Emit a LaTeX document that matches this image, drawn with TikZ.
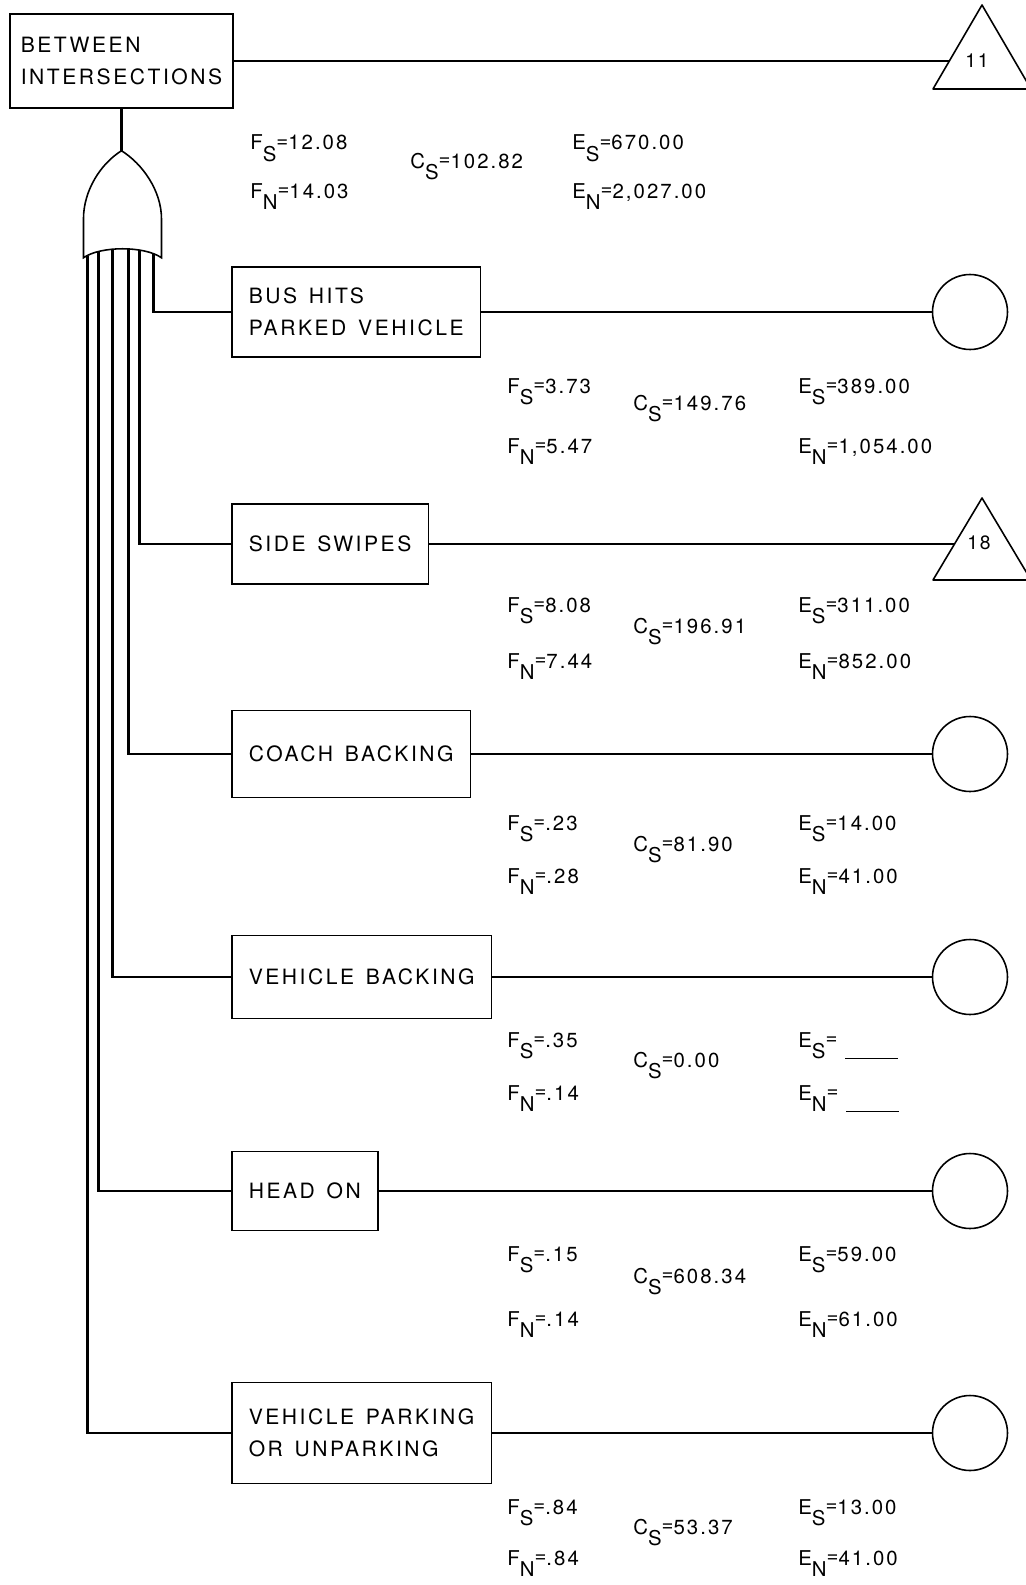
\documentclass[tikz,border=0pt]{standalone}
\usepackage{fontspec}
\setmainfont{TeX Gyre Heros}
\newfontfamily\boxfont[LetterSpace=12,WordSpace=1.4]{TeX Gyre Heros}
\newfontfamily\numfont[LetterSpace=10]{TeX Gyre Heros}
\newcommand{\lo}[1]{\raisebox{-0.58em}{#1}}
\newcommand{\eq}{\raisebox{0.12em}{=}}
\newcommand{\blank}{\ \rule[-0.24cm]{1.06cm}{0.6pt}}
\tikzset{
    evbox/.style={
        draw,
        line width=0.9pt,
        anchor=west,
        align=left,
        inner xsep=0.34cm,
        inner ysep=0pt,
        font=\fontsize{12}{18.5}\boxfont
    },
    evcirc/.style={
        circle,
        draw,
        line width=0.9pt,
        minimum size=1.5cm,
        inner sep=0pt
    },
    transfer/.style={
        draw,
        line width=0.9pt,
        line join=round
    },
    conn/.style={
        line width=1.3pt
    },
    val/.style={
        anchor=base west,
        inner sep=0pt,
        font=\fontsize{11.6}{12}\numfont
    },
    tnum/.style={
        inner sep=0pt,
        font=\fontsize{11}{12}\numfont
    }
}
\begin{document}
\begin{tikzpicture}[x=0.02cm,y=-0.02cm]
\useasboundingbox (0,0) rectangle (1026,1585);
\node[evbox,inner xsep=0.22cm,minimum height=1.88cm] (top) at (9,61) {BETWEEN\\INTERSECTIONS};
\coordinate (gtop) at ([yshift=-0.84cm]top.south);
\begin{scope}[shift={(gtop)}]
\draw[line width=0.9pt] (0,0) .. controls (-21,13) and (-38,40) .. (-38,68) -- (-38,107)
  .. controls (-21,95) and (23,95) .. (40,107) -- (40,68)
  .. controls (40,40) and (21,13) .. (0,0);
\coordinate (g1) at (32,103.5);
\coordinate (g2) at (18,99.6);
\coordinate (g3) at (7,98.2);
\coordinate (g4) at (-9,98.6);
\coordinate (g5) at (-23,101.5);
\coordinate (g6) at (-34,105.3);
\end{scope}
\draw[conn] (top.south) -- (gtop);

\node[evbox,minimum height=1.8cm] (bus) at (231,312) {BUS HITS\\PARKED VEHICLE};
\node[evbox,minimum height=1.6cm] (side) at (231,544) {SIDE SWIPES};
\node[evbox,minimum height=1.74cm] (coach) at (231,754) {COACH BACKING};
\node[evbox,minimum height=1.66cm] (vback) at (231,977) {VEHICLE BACKING};
\node[evbox,minimum height=1.58cm] (head) at (231,1191) {HEAD ON};
\node[evbox,minimum height=2.02cm] (park) at (231,1433) {VEHICLE PARKING\\OR UNPARKING};

\node[evcirc] (c1) at (970,312) {};
\node[evcirc] (c2) at (970,754) {};
\node[evcirc] (c3) at (970,977) {};
\node[evcirc] (c4) at (970,1191) {};
\node[evcirc] (c5) at (970,1433) {};

\draw[transfer] (982,5) -- (933,89) -- (1031,89) -- cycle;
\node[tnum] (t11) at (977,61) {11};
\coordinate (j11) at (949,61);
\draw[transfer] (982,498) -- (933,580) -- (1031,580) -- cycle;
\node[tnum] (t18) at (979,543) {18};
\coordinate (j18) at (955,544);

\path[conn]
  (top) edge (j11)
  (g1) edge[to path={|- (\tikztotarget)}] (bus)
  (g2) edge[to path={|- (\tikztotarget)}] (side)
  (g3) edge[to path={|- (\tikztotarget)}] (coach)
  (g4) edge[to path={|- (\tikztotarget)}] (vback)
  (g5) edge[to path={|- (\tikztotarget)}] (head)
  (g6) edge[to path={|- (\tikztotarget)}] (park)
  (bus) edge (c1)
  (side) edge (j18)
  (coach) edge (c2)
  (vback) edge (c3)
  (head) edge (c4)
  (park) edge (c5);

\foreach \n/\xf/\xc/\xe/\ys/\yc/\yn/\fs/\fn/\cs/\es/\en in {
  top/250/410/572/150/168/198/12.08/14.03/102.82/670.00/{2,027.00},
  bus/507/633/798/393/410/453/3.73/5.47/149.76/389.00/{1,054.00},
  side/507/633/798/612/633/668/8.08/7.44/196.91/311.00/852.00,
  coach/507/633/798/830/851/883/.23/.28/81.90/14.00/41.00,
  vback/507/633/798/1047/1067/1100/.35/.14/0.00/{\blank}/{\blank},
  head/507/633/798/1261/1283/1326/.15/.14/608.34/59.00/61.00,
  park/507/633/798/1514/1534/1565/.84/.84/53.37/13.00/41.00}{
  \node[val] (fs-\n) at (\xf,\ys) {F\lo{S}\eq\fs};
  \node[val] (fn-\n) at (\xf,\yn) {F\lo{N}\eq\fn};
  \node[val] (cs-\n) at (\xc,\yc) {C\lo{S}\eq\cs};
  \node[val] (es-\n) at (\xe,\ys) {E\lo{S}\eq\es};
  \node[val] (en-\n) at (\xe,\yn) {E\lo{N}\eq\en};
}
\end{tikzpicture}
\end{document}
